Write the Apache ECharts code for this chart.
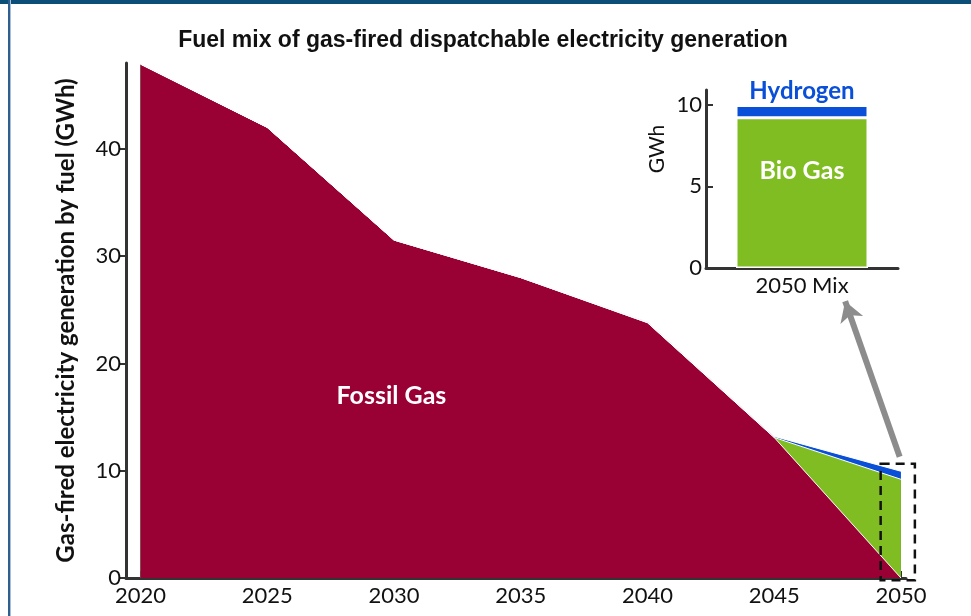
<!DOCTYPE html>
<html>
<head>
<meta charset="utf-8">
<script src="https://cdn.jsdelivr.net/npm/echarts@6/dist/echarts.min.js"></script>
<style>
  html, body { margin: 0; padding: 0; background: #ffffff; }
  #chart { width: 971px; height: 616px; }
</style>
</head>
<body>
<div id="chart"></div>
<script>
// Gas-fired dispatchable generation by fuel (GWh)
const years = [2020, 2025, 2030, 2035, 2040, 2045, 2050];
const fossilGas = [47.9, 42.0, 31.5, 28.0, 23.8, 13.1, 0];
const bioGas = [0, 0, 0, 0, 0, 0, 9.2];
const hydrogen = [0, 0, 0, 0, 0.05, 0.1, 0.75];
const yearTicks = [2020, 2025, 2030, 2035, 2040, 2045, 2050];
const mainYTicks = [0, 10, 20, 30, 40];
const insetYTicks = [0, 5, 10];
const insetCategory = ['2050 Mix'];
// zoom box around the 2050 values: [x0, x1, yTop, yBottom]
const zoomBox = [2049.2, 2050.55, 10.65, -0.2];

const FONT = 'Lato, "Open Sans", sans-serif';
const AXIS = '#333333';
const C_FOSSIL = '#990033';
const C_BIO = '#80bd22';
const C_H2 = '#0a4fd8';

// Cumulative layers: each area fills down to zero, drawn from the top layer down
const cumFossil = fossilGas.slice();
const cumBio = fossilGas.map((v, i) => v + bioGas[i]);
const cumH2 = cumBio.map((v, i) => v + hydrogen[i]);
const pairs = (vals) => years.map((y, i) => [y, vals[i]]);
const last = (arr) => arr[arr.length - 1];

const areaLayer = (name, vals, color) => ({
  name, type: 'line', xAxisIndex: 0, yAxisIndex: 0,
  data: pairs(vals), showSymbol: false, clip: false, z: 3,
  lineStyle: { color: '#ffffff', width: 1 },
  areaStyle: { color, opacity: 1 }
});

const chart = echarts.init(document.getElementById('chart'), null, { renderer: 'canvas' });

const fossilLayer = areaLayer('Fossil Gas', cumFossil, C_FOSSIL);
fossilLayer.markPoint = {
  symbol: 'circle', symbolSize: 0,
  label: { show: true, formatter: 'Fossil Gas', color: '#fff', fontFamily: FONT, fontWeight: 'bold', fontSize: 25 },
  data: [{ coord: [2029.9, 17] }]
};
// arrow pointing from the zoom box to the inset
fossilLayer.markLine = {
  silent: true, symbol: ['none', 'arrow'], symbolSize: [18, 20],
  lineStyle: { color: '#8c8c8c', width: 6, type: 'solid' },
  label: { show: false },
  data: [[{ coord: [2049.95, 11.3] }, { coord: [2047.8, 25.8] }]]
};

const boxSeries = {
  name: 'zoom box', type: 'custom', xAxisIndex: 0, yAxisIndex: 0,
  clip: false, z: 10, silent: true,
  data: [zoomBox],
  renderItem: (params, api) => {
    const p0 = api.coord([api.value(0), api.value(2)]);
    const p1 = api.coord([api.value(1), api.value(3)]);
    return {
      type: 'rect',
      shape: { x: p0[0], y: p0[1], width: p1[0] - p0[0], height: p1[1] - p0[1] },
      style: { fill: 'none', stroke: '#111', lineWidth: 2.5, lineDash: [9, 6] }
    };
  }
};

const option = {
  backgroundColor: '#ffffff',
  animation: false,
  title: {
    text: 'Fuel mix of gas-fired dispatchable electricity generation',
    left: 478, top: 24, textAlign: 'center',
    textStyle: { fontFamily: '"Liberation Sans", Arial, sans-serif', fontWeight: 'bold', fontSize: 23, color: '#111' }
  },
  graphic: [
    { type: 'rect', shape: { x: 0, y: 0, width: 971, height: 4 }, style: { fill: '#0b4f78' }, silent: true },
    { type: 'rect', shape: { x: 8, y: 0, width: 2, height: 616 }, style: { fill: '#2f5f8f' }, silent: true },
    { type: 'rect', shape: { x: 10, y: 0, width: 1, height: 616 }, style: { fill: '#a9c0d8' }, silent: true }
  ],
  grid: [
    { left: 126, right: 65, top: 63, bottom: 38 },
    { left: 706, right: 73, top: 90, bottom: 348 }
  ],
  xAxis: [
    {
      gridIndex: 0, type: 'value', min: 2019.43, max: 2050.2,
      splitLine: { show: false },
      axisLine: { lineStyle: { color: AXIS, width: 3 } },
      axisTick: { inside: true, length: 7, lineStyle: { color: AXIS, width: 2 }, customValues: yearTicks },
      axisLabel: { customValues: yearTicks, margin: 7, fontFamily: FONT, fontSize: 22, color: '#111',
                   formatter: (v) => String(v) }
    },
    {
      gridIndex: 1, type: 'category', data: insetCategory,
      axisLine: { lineStyle: { color: AXIS, width: 3 } },
      axisTick: { inside: true, length: 12, lineStyle: { color: AXIS, width: 3 } },
      axisLabel: { margin: 7, fontFamily: FONT, fontSize: 22, color: '#111' }
    }
  ],
  yAxis: [
    {
      gridIndex: 0, type: 'value', min: 0, max: 48,
      name: 'Gas-fired electricity generation by fuel (GWh)',
      nameLocation: 'middle', nameGap: 48,
      nameTextStyle: { fontFamily: FONT, fontWeight: 'bold', fontSize: 24, color: '#111' },
      splitLine: { show: false },
      axisLine: { show: true, lineStyle: { color: AXIS, width: 3 } },
      axisTick: { show: true, length: 6, lineStyle: { color: AXIS, width: 2 }, customValues: mainYTicks },
      axisLabel: { customValues: mainYTicks, margin: 5, fontFamily: FONT, fontSize: 22, color: '#111' }
    },
    {
      gridIndex: 1, type: 'value', min: 0, max: 10.9,
      name: 'GWh', nameLocation: 'middle', nameGap: 38,
      nameTextStyle: { fontFamily: FONT, fontSize: 21, color: '#111', padding: [0, 0, 0, 60] },
      splitLine: { show: false },
      axisLine: { show: true, lineStyle: { color: AXIS, width: 3 } },
      axisTick: { show: true, inside: true, length: 7, lineStyle: { color: AXIS, width: 2 }, customValues: insetYTicks },
      axisLabel: { customValues: insetYTicks, margin: 4, fontFamily: FONT, fontSize: 22, color: '#111' }
    }
  ],
  series: [
    areaLayer('Hydrogen', cumH2, C_H2),
    areaLayer('Bio Gas', cumBio, C_BIO),
    fossilLayer,
    boxSeries,
    {
      name: 'Bio Gas (2050)', type: 'bar', stack: 'mix', xAxisIndex: 1, yAxisIndex: 1,
      data: [last(bioGas)], barWidth: 132,
      itemStyle: { color: C_BIO, borderColor: '#ffffff', borderWidth: 1.5 },
      label: { show: true, position: 'insideTop', distance: 41, formatter: 'Bio Gas',
               color: '#fff', fontFamily: FONT, fontWeight: 'bold', fontSize: 25 }
    },
    {
      name: 'Hydrogen (2050)', type: 'bar', stack: 'mix', xAxisIndex: 1, yAxisIndex: 1,
      data: [last(hydrogen)], barWidth: 132,
      itemStyle: { color: C_H2, borderColor: '#ffffff', borderWidth: 1.5 },
      label: { show: true, position: 'top', distance: 2, formatter: 'Hydrogen',
               color: C_H2, fontFamily: FONT, fontWeight: 'bold', fontSize: 24 }
    }
  ]
};

chart.setOption(option);
</script>
</body>
</html>
